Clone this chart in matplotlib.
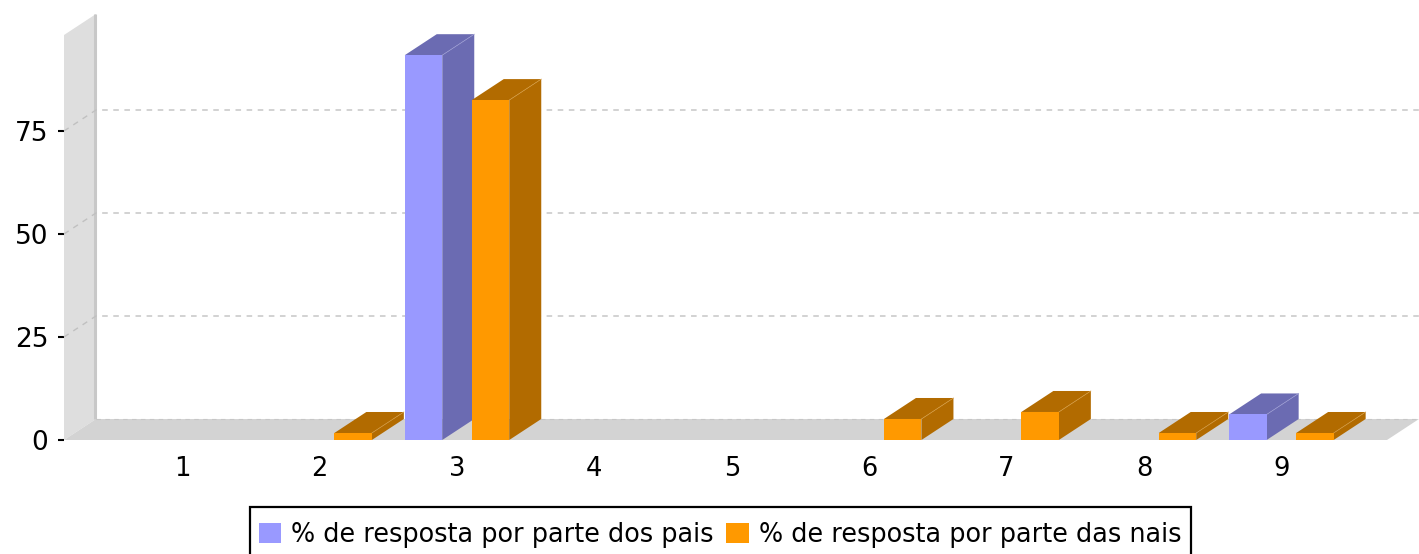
import numpy as np
import matplotlib
matplotlib.use('Agg')
import matplotlib.pyplot as plt
from matplotlib.patches import Rectangle

categories = ['1', '2', '3', '4', '5', '6', '7', '8', '9']
pais = [0, 0, 93.4, 0, 0, 0, 0, 0, 6.2]
maes = [0, 1.7, 82.5, 0, 0, 5.1, 6.8, 1.7, 1.7]
label_pais = '% de resposta por parte dos pais'
label_maes = '% de resposta por parte das nais'
yticks = [0, 25, 50, 75]

W, H = 1419, 554
PX_X = 137.4   # pixels per category
PX_Y = 4.12    # pixels per value unit
X1 = 182.2     # pixel of category 1
dx = 32 / PX_X   # 3d depth in data units
dy = 21 / PX_Y
bar_w = 37.5 / PX_X
bar_off = 33.5 / PX_X

fig = plt.figure(figsize=(W / 100, H / 100), dpi=100)
ax = fig.add_axes([64 / W, (H - 440) / H, (W - 64) / W, 440 / H])
ax.set_xlim(1 - (X1 - 64) / PX_X, 1 + (W - X1) / PX_X)
ax.set_ylim(0, 440 / PX_Y)
x0, x1 = ax.get_xlim()
top = 98.3
front_r = 1 + (1387 - X1) / PX_X

# wall and floor
ax.fill([x0, x0 + dx, x0 + dx, x0], [0, dy, top + dy, top], color='#dedede', lw=0, zorder=1)
ax.fill([x0, x0 + dx, front_r + dx, front_r], [0, dy, dy, 0], color='#d3d3d3', lw=0, zorder=1)
ax.plot([x0 + dx - 0.01] * 2, [dy, top + dy], color='#c8c8c8', lw=2.2, zorder=2, solid_capstyle='butt')

# grid
for v in yticks:
    if v == 0:
        ax.plot([x0 + dx, x1], [dy, dy], color='#c6c6c6', lw=0.8, ls=(0, (4, 4)), zorder=2)
    else:
        ax.plot([x0, x0 + dx, x1], [v, v + dy, v + dy], color='#c0c0c0', lw=1.0,
                ls=(0, (4, 4)), zorder=2, clip_on=False)


def bar3d(xc, v, dark, edge, z):
    if v <= 0:
        return
    l, r = xc - bar_w / 2, xc + bar_w / 2
    ax.fill([r, r + dx, r + dx, r], [0, dy, v + dy, v], color=dark, lw=0, zorder=z)
    ax.fill([l, r, r + dx, l + dx], [v, v, v + dy, v + dy], color=dark, lw=0, zorder=z)
    ax.plot([r, r + dx], [v, v + dy], color=edge, lw=0.5, zorder=z + 0.1)


xs = np.arange(1, len(categories) + 1)
for i, x in enumerate(xs):
    z = 3 + i
    bar3d(x - bar_off, pais[i], '#6b6bb2', '#9a9ad2', z)
    bar3d(x + bar_off, maes[i], '#b26b00', '#d49a40', z + 0.5)

b1 = ax.bar(xs - bar_off, pais, bar_w, color='#9999ff', lw=0, zorder=20, label=label_pais)
b2 = ax.bar(xs + bar_off, maes, bar_w, color='#ff9900', lw=0, zorder=20, label=label_maes)

for s in ax.spines.values():
    s.set_visible(False)
ax.patch.set_visible(False)
ax.set_xticks(xs, categories)
ax.set_yticks(yticks)
ax.tick_params(axis='x', length=0, pad=11.5, labelsize=18.5)
ax.tick_params(axis='y', length=4.3, width=1.5, pad=7, labelsize=19)

# legend box runs off the bottom of the picture
fig.add_artist(Rectangle((250 / W, -10 / H), 941 / W, (H - 507 + 10) / H, transform=fig.transFigure,
                         facecolor='white', edgecolor='black', lw=1.6))
fig.legend(handles=[b1, b2], loc='upper left',
           bbox_to_anchor=(249 / W, 1 - 512 / H), bbox_transform=fig.transFigure,
           ncol=2, fontsize=18.4, frameon=False, handlelength=0.87, handleheight=0.87,
           handletextpad=0.4, columnspacing=0.5, borderaxespad=0, borderpad=0.38)

fig.savefig('out.png', dpi=100)
